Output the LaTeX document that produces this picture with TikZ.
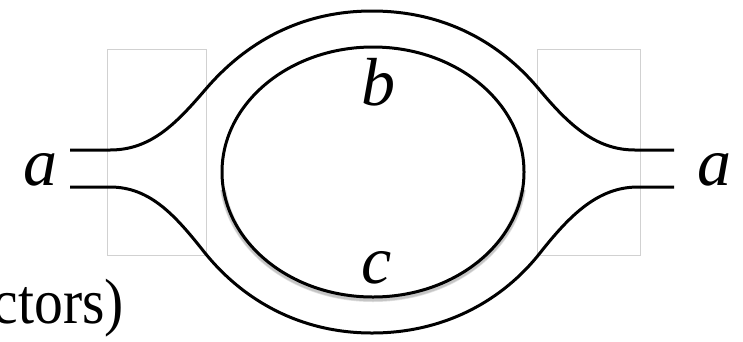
\documentclass[tikz,border=0pt]{standalone}
\usepackage{fontspec}
\setmainfont{Liberation Serif}
\begin{document}
\begin{tikzpicture}[x=1pt,y=-1pt,
  strand/.style={line width=3pt, black, line cap=butt},
  frame/.style={draw=black!18, line width=0.9pt},
  lbl/.style={inner sep=0pt, anchor=base, font=\fontsize{68}{80}\selectfont\itshape},
  cut/.style={inner sep=0pt, anchor=base east, font=\fontsize{64}{76}\selectfont}]
\useasboundingbox (0,0) rectangle (743,341);
% faint frames
\draw[frame] (107,49) rectangle (206,255);
\draw[frame] (537,49) rectangle (640,255);
% end coordinates
\coordinate (ul) at (70,150);
\coordinate (ur) at (674,150);
\coordinate (ll) at (70,187);
\coordinate (lr) at (674,187);
% outer strand, upper
\draw[strand] (ul) -- (110,150) .. controls (150,150) and (175,125) .. (205,90)
  .. controls (245,43) and (300,11) .. (372,11)
  .. controls (445,11) and (500,43) .. (538,88)
  .. controls (568,124) and (595,150) .. (635,150) -- (ur);
% outer strand, lower
\draw[strand] (ll) -- (110,187) .. controls (150,187) and (175,215) .. (205,253)
  .. controls (243,300) and (300,333) .. (372,333)
  .. controls (445,333) and (503,300) .. (540,253)
  .. controls (570,215) and (598,187) .. (638,187) -- (lr);
% inner loop with faint shadow at its lower side
\begin{scope}
  \clip (200,190) rectangle (550,310);
  \draw[black, opacity=0.12, line width=6pt] (373,174) ellipse [x radius=151, y radius=125];
  \draw[black, opacity=0.12, line width=4.5pt] (373,174) ellipse [x radius=151, y radius=125];
\end{scope}
\draw[strand] (373,172) ellipse [x radius=151, y radius=125];
% labels
\node[lbl] (aL) at (40,185) {a};
\node[lbl] (aR) at (714,185) {a};
\node[lbl] (b) at (378,105) {b};
\node[lbl] (c) at (377,283) {c};
\node[cut] (ct) at (124,323) {\scalebox{0.9}[1]{ctors)}};
\end{tikzpicture}
\end{document}
